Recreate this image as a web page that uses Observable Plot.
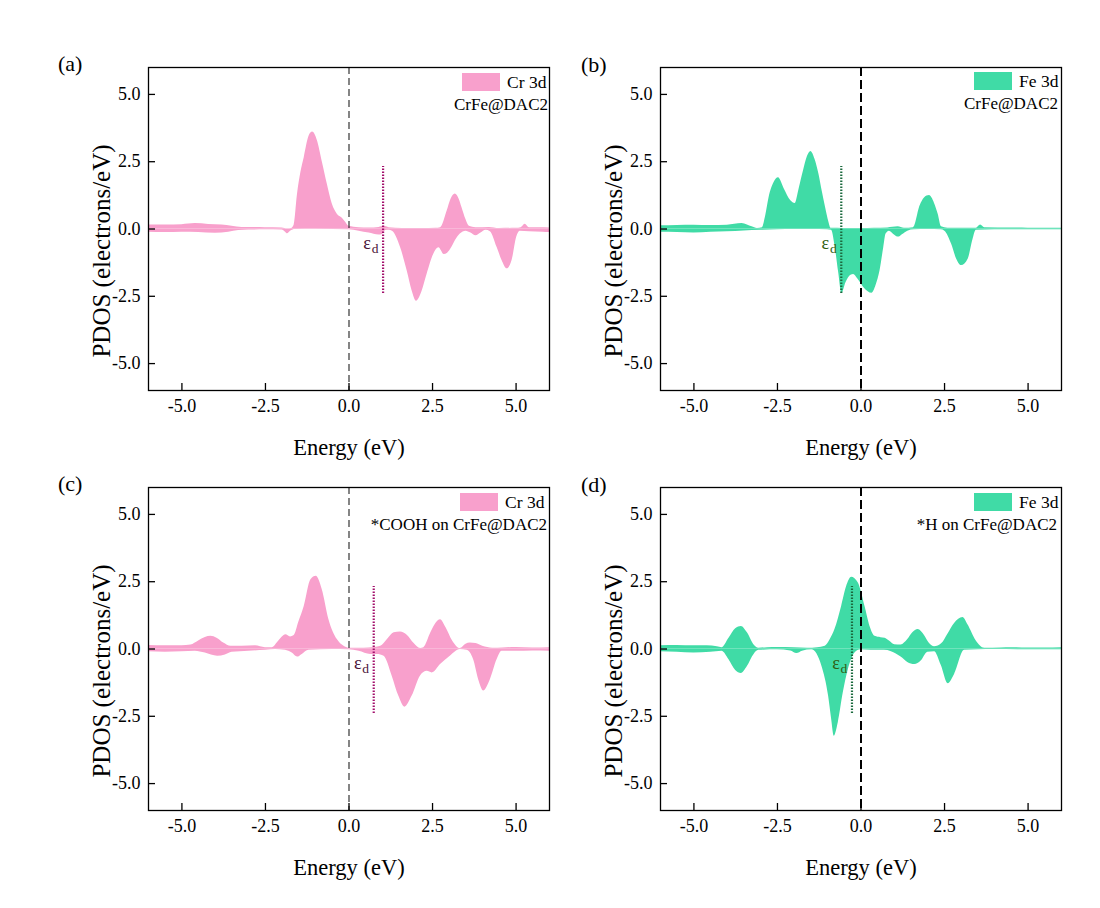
<!DOCTYPE html>
<html>
<head>
<meta charset="utf-8">
<script src="https://cdn.jsdelivr.net/npm/d3@7"></script>
<script src="https://cdn.jsdelivr.net/npm/@observablehq/plot@0.6"></script>
<style>
  html, body { margin: 0; padding: 0; background: #ffffff; }
  #root { position: relative; width: 1100px; height: 908px; overflow: hidden; }
  #root > svg, #root > div { position: absolute; }
</style>
</head>
<body>
<div id="root"></div>
<script>
// ---------------- data ----------------
const xTicks = [-5, -2.5, 0, 2.5, 5];
const yTicks = [-5, -2.5, 0, 2.5, 5];
const xLabel = "Energy (eV)";
const yLabel = "PDOS (electrons/eV)";
const panelLabels = ["(a)", "(b)", "(c)", "(d)"];
const legendOrbital = ["Cr 3d", "Fe 3d", "Cr 3d", "Fe 3d"];
const legendSystem = ["CrFe@DAC2", "CrFe@DAC2", "*COOH on CrFe@DAC2", "*H on CrFe@DAC2"];
const dBandCenter = [1.02, -0.59, 0.74, -0.27];   // ε_d positions (eV)

// [energy, PDOS] pairs : spin up (positive) and spin down (negative)
const aUp = [[-6,0.15],[-5.5,0.15],[-5,0.16],[-4.6,0.2],[-4.2,0.17],[-3.8,0.15],[-3.5,0.1],[-3.2,0.06],[-2.5,0.05],[-2,0.04],[-1.84,0.0],[-1.72,0.02],[-1.64,0.15],[-1.54,1.3],[-1.44,2.1],[-1.34,2.65],[-1.19,3.46],[-1.09,3.6],[-0.95,3.3],[-0.8,2.5],[-0.65,1.67],[-0.5,0.93],[-0.35,0.55],[-0.2,0.4],[-0.1,0.25],[0,0.1],[0.3,0.05],[0.6,0.04],[0.9,0.06],[1.05,0.1],[1.2,0.05],[1.4,0.03],[1.8,0.02],[2.2,0.02],[2.6,0.03],[2.74,0.05],[2.94,0.68],[3.05,1.1],[3.18,1.3],[3.3,1.1],[3.38,0.8],[3.5,0.35],[3.6,0.1],[3.8,0.05],[4.2,0.06],[4.5,0.02],[5.0,0.03],[5.15,0.05],[5.27,0.18],[5.4,0.05],[5.7,0.05],[6,0.04]];
const aDn = [[-6,-0.12],[-5.5,-0.13],[-5,-0.12],[-4.5,-0.13],[-4,-0.16],[-3.6,-0.12],[-3.3,-0.06],[-3,-0.04],[-2.5,-0.03],[-2,-0.04],[-1.9,-0.12],[-1.84,-0.18],[-1.75,-0.08],[-1.6,-0.02],[-1,-0.01],[0,-0.03],[0.3,-0.08],[0.6,-0.15],[0.9,-0.22],[1.0,-0.2],[1.1,-0.06],[1.2,-0.05],[1.3,-0.08],[1.54,-0.68],[1.74,-1.55],[1.89,-2.3],[2.02,-2.68],[2.19,-2.3],[2.34,-1.67],[2.54,-0.93],[2.69,-0.7],[2.85,-0.95],[2.95,-0.9],[3.08,-0.68],[3.2,-0.4],[3.33,-0.19],[3.5,-0.08],[3.65,-0.15],[3.8,-0.25],[3.95,-0.15],[4.1,-0.05],[4.23,-0.1],[4.43,-0.68],[4.58,-1.17],[4.73,-1.48],[4.88,-1.17],[5.02,-0.3],[5.12,-0.08],[5.4,-0.1],[5.8,-0.12],[6,-0.13]];

const bUp = [[-6,0.12],[-5.5,0.13],[-5,0.14],[-4.5,0.13],[-4,0.14],[-3.56,0.2],[-3.4,0.15],[-3.26,0.08],[-3.1,0.02],[-2.95,0.05],[-2.85,0.5],[-2.75,1.17],[-2.6,1.73],[-2.47,1.9],[-2.3,1.5],[-2.1,1.05],[-1.97,0.95],[-1.85,1.5],[-1.72,2.16],[-1.6,2.7],[-1.5,2.88],[-1.38,2.6],[-1.26,2.04],[-1.16,1.4],[-1.06,0.8],[-0.96,0.25],[-0.9,0.03],[-0.7,0.03],[-0.4,0.02],[0,0.02],[0.4,0.03],[0.8,0.04],[1.11,0.08],[1.3,0.03],[1.57,0.05],[1.77,0.86],[1.9,1.15],[2.05,1.24],[2.2,0.95],[2.31,0.55],[2.41,0.08],[2.6,0.03],[3.0,0.03],[3.45,0.03],[3.58,0.15],[3.7,0.05],[4.5,0.04],[5,0.03],[6,0.03]];
const bDn = [[-6,-0.12],[-5.5,-0.13],[-5,-0.15],[-4.5,-0.12],[-4,-0.1],[-3.5,-0.07],[-3,-0.05],[-2.5,-0.03],[-2,-0.02],[-1.5,-0.02],[-1,-0.03],[-0.88,-0.05],[-0.78,-0.6],[-0.67,-1.6],[-0.57,-2.4],[-0.45,-2.0],[-0.3,-1.72],[-0.22,-1.69],[-0.1,-1.85],[0.1,-2.2],[0.33,-2.39],[0.45,-2.1],[0.57,-1.55],[0.68,-0.7],[0.75,-0.19],[0.85,-0.08],[1.0,-0.22],[1.12,-0.3],[1.25,-0.2],[1.4,-0.08],[1.6,-0.03],[2.0,-0.02],[2.4,-0.03],[2.51,-0.08],[2.71,-0.56],[2.86,-1.11],[3.01,-1.36],[3.21,-1.11],[3.35,-0.4],[3.45,-0.05],[4,-0.03],[5,-0.03],[6,-0.03]];

const cUp = [[-6,0.13],[-5.5,0.12],[-5,0.12],[-4.73,0.15],[-4.5,0.3],[-4.3,0.43],[-4.13,0.47],[-3.95,0.4],[-3.75,0.22],[-3.53,0.1],[-3.2,0.1],[-2.8,0.12],[-2.5,0.05],[-2.3,0.05],[-2.1,0.3],[-1.89,0.53],[-1.75,0.45],[-1.64,0.5],[-1.5,1.0],[-1.34,1.58],[-1.14,2.57],[-0.98,2.7],[-0.8,2.2],[-0.6,1.09],[-0.35,0.35],[-0.15,0.1],[0,0.03],[0.3,0.03],[0.6,0.04],[0.95,0.1],[1.15,0.35],[1.35,0.6],[1.54,0.63],[1.75,0.5],[1.95,0.2],[2.14,0.02],[2.24,0.05],[2.45,0.6],[2.6,0.95],[2.74,1.09],[2.9,0.8],[3.1,0.3],[3.33,0.02],[3.5,0.18],[3.63,0.22],[3.8,0.2],[4.0,0.1],[4.3,0.03],[4.6,0.04],[5,0.06],[5.5,0.04],[6,0.05]];
const cDn = [[-6,-0.1],[-5.5,-0.12],[-5,-0.1],[-4.6,-0.08],[-4.3,-0.15],[-3.93,-0.27],[-3.7,-0.22],[-3.5,-0.12],[-3,-0.08],[-2.5,-0.05],[-2.2,-0.02],[-1.9,-0.05],[-1.7,-0.15],[-1.54,-0.3],[-1.4,-0.2],[-1.2,-0.05],[-0.5,-0.02],[0,-0.03],[0.3,-0.08],[0.65,-0.2],[0.85,-0.2],[1.05,-0.27],[1.29,-1.0],[1.49,-1.75],[1.67,-2.16],[1.89,-1.75],[2.14,-1.0],[2.34,-0.83],[2.49,-0.89],[2.74,-0.58],[3.03,-0.27],[3.33,-0.02],[3.53,-0.05],[3.73,-0.4],[3.88,-1.14],[4.03,-1.56],[4.23,-1.14],[4.43,-0.4],[4.58,-0.08],[5,-0.08],[5.5,-0.07],[6,-0.08]];

const dUp = [[-6,0.12],[-5.5,0.13],[-5,0.12],[-4.6,0.12],[-4.3,0.08],[-4.16,0.05],[-3.95,0.4],[-3.75,0.75],[-3.58,0.84],[-3.4,0.6],[-3.2,0.15],[-3.06,0.03],[-2.8,0.05],[-2.5,0.06],[-2.0,0.05],[-1.6,0.03],[-1.3,0.05],[-1.07,0.1],[-0.92,0.35],[-0.78,0.72],[-0.58,1.58],[-0.43,2.32],[-0.28,2.67],[-0.08,2.45],[0.12,1.58],[0.27,0.84],[0.42,0.47],[0.6,0.42],[0.72,0.4],[0.85,0.3],[1.01,0.16],[1.2,0.15],[1.4,0.35],[1.55,0.6],[1.71,0.72],[1.9,0.5],[2.05,0.2],[2.2,0.08],[2.42,0.2],[2.6,0.55],[2.8,0.95],[3.05,1.17],[3.2,0.9],[3.45,0.3],[3.7,0.03],[4.2,0.04],[4.5,0.05],[5,0.04],[5.5,0.04],[6,0.05]];
const dDn = [[-6,-0.1],[-5.5,-0.12],[-5,-0.15],[-4.5,-0.12],[-4.16,-0.08],[-3.95,-0.4],[-3.75,-0.8],[-3.58,-0.91],[-3.4,-0.65],[-3.2,-0.2],[-3.06,-0.05],[-2.5,-0.03],[-2.1,-0.07],[-1.92,-0.17],[-1.75,-0.08],[-1.47,-0.03],[-1.17,-0.64],[-0.97,-1.75],[-0.88,-2.6],[-0.8,-3.24],[-0.68,-2.74],[-0.53,-1.63],[-0.38,-0.77],[-0.18,-0.15],[0,-0.03],[0.3,-0.05],[0.7,-0.05],[0.91,-0.1],[1.2,-0.3],[1.4,-0.5],[1.61,-0.58],[1.8,-0.45],[2.0,-0.12],[2.2,-0.1],[2.4,-0.6],[2.61,-1.29],[2.8,-0.95],[3.1,-0.05],[3.5,-0.03],[4,-0.02],[5,-0.03],[6,-0.03]];

// ---------------- styles ----------------
const PINK = "#f8a0cc", GREEN = "#40dba6";
const FONT = "Liberation Serif, Tinos, Times New Roman, serif";

const panels = [
  {up: aUp, dn: aDn, fill: PINK, left: 0, top: 0, zeroW: 1.1, zeroDash: "7,4", zeroC: "#222",
   edC: "#a3106c", edTxt: "#4a1238"},
  {up: bUp, dn: bDn, fill: GREEN, left: 512, top: 0, zeroW: 2, zeroDash: "9,4", zeroC: "#000",
   edC: "#1b6a3e", edTxt: "#2f5e12"},
  {up: cUp, dn: cDn, fill: PINK, left: 0, top: 420, zeroW: 1.1, zeroDash: "7,4", zeroC: "#222",
   edC: "#a3106c", edTxt: "#4a1238"},
  {up: dUp, dn: dDn, fill: GREEN, left: 512, top: 420, zeroW: 2, zeroDash: "9,4", zeroC: "#000",
   edC: "#1b6a3e", edTxt: "#2f5e12"}
];

const W = 560, H = 470, ML = 148, MR = 11, MT = 67, MB = 80;
const innerW = W - ML - MR, innerH = H - MT - MB;
const root = document.getElementById("root");
const toRows = arr => arr.map(([E, v]) => ({E, v}));

panels.forEach((p, i) => {
  const ed = dBandCenter[i];
  const svg = Plot.plot({
    width: W, height: H,
    marginLeft: ML, marginRight: MR, marginTop: MT, marginBottom: MB,
    x: {domain: [-6, 6]},
    y: {domain: [-6, 6]},
    style: {fontFamily: FONT, fontSize: "18px", color: "#000", background: "transparent", overflow: "visible"},
    marks: [
      Plot.areaY(toRows(p.up), {x: "E", y: "v", fill: p.fill, curve: "monotone-x"}),
      Plot.areaY(toRows(p.dn), {x: "E", y: "v", fill: p.fill, curve: "monotone-x"}),
      Plot.ruleX([0], {x: d => d, stroke: p.zeroC, strokeWidth: p.zeroW, strokeDasharray: p.zeroDash}),
      Plot.ruleX([ed], {x: d => d, y1: -2.4, y2: 2.32, stroke: p.edC, strokeWidth: 2.2, strokeDasharray: "1.6,1.4"}),
      Plot.text([ed], {x: d => d, y: 0, text: () => "ε", dx: -16, dy: 14, fontSize: 18, fill: p.edTxt}),
      Plot.text([ed], {x: d => d, y: 0, text: () => "d", dx: -8, dy: 20, fontSize: 13.5, fill: p.edTxt}),
      Plot.frame({stroke: "#000", strokeWidth: 1.3}),
      Plot.tickX(xTicks, {x: d => d, insetTop: innerH - 7, stroke: "#000", strokeWidth: 1.3}),
      Plot.tickY(yTicks, {y: d => d, insetRight: innerW - 7, stroke: "#000", strokeWidth: 1.3}),
      Plot.axisX({ticks: xTicks, tickSize: 0, tickPadding: 9, tickFormat: d => d.toFixed(1), label: null}),
      Plot.axisY({ticks: yTicks, tickSize: 0, tickPadding: 8, tickFormat: d => d.toFixed(1), label: null}),
      Plot.text([xLabel], {frameAnchor: "bottom", textAnchor: "middle", dy: 64, fontSize: 22.5}),
      Plot.text([yLabel], {frameAnchor: "left", textAnchor: "middle", dx: -47, dy: 22, rotate: -90, fontSize: 25})
    ]
  });
  svg.style.left = p.left + "px";
  svg.style.top = p.top + "px";
  root.appendChild(svg);
});

// ---------------- panel letters and legends (layout overlay) ----------------
const ov = d3.select(root).append("svg")
  .attr("width", 1100).attr("height", 908)
  .style("left", "0px").style("top", "0px")
  .style("font-family", FONT);

const letterPos = [[58, 71], [581, 72], [58, 491], [581, 492]];
panelLabels.forEach((t, i) => {
  ov.append("text").attr("x", letterPos[i][0]).attr("y", letterPos[i][1])
    .attr("font-size", 22).text(t);
});

const legendPos = [ // swatch x, swatch y, right edge of system text
  [462, 73, 548], [974, 72, 1058], [460, 493, 547], [974, 493, 1057]
];
panels.forEach((p, i) => {
  const [sx, sy, rx] = legendPos[i];
  ov.append("rect").attr("x", sx).attr("y", sy).attr("width", 38).attr("height", 18).attr("fill", p.fill);
  ov.append("text").attr("x", sx + 45).attr("y", sy + 15).attr("font-size", 17.5).text(legendOrbital[i]);
  ov.append("text").attr("x", rx).attr("y", sy + 37).attr("font-size", 17)
    .attr("text-anchor", "end").text(legendSystem[i]);
});
</script>
</body>
</html>
